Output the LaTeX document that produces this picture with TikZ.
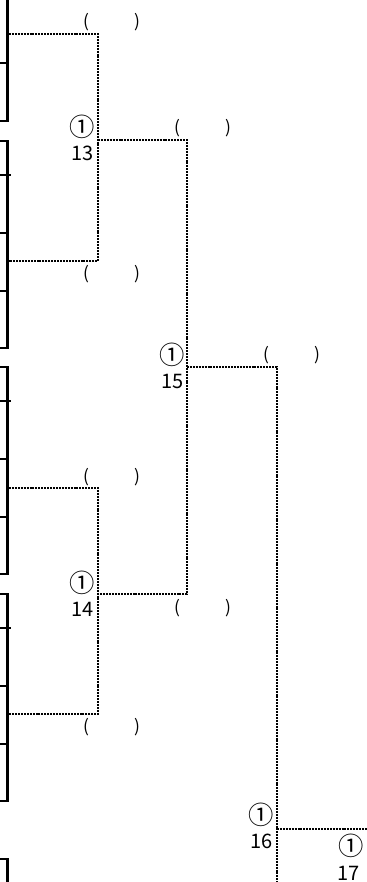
\documentclass[tikz,border=0pt]{standalone}
\usepackage{fontspec}
\newfontfamily\jpfont{Noto Sans CJK JP}
\usetikzlibrary{positioning}
\tikzset{
  frame/.style={line width=1.9pt,line cap=rect},
  rowline/.style={line width=0.8pt},
  bracket/.style={line width=1.6pt,dash pattern=on 1.5pt off 0.7pt},
  paren/.style={font=\jpfont\fontsize{13}{13}\selectfont,inner sep=0pt},
  seed/.style={font=\jpfont\fontsize{19}{19}\selectfont,inner sep=0pt,anchor=east},
  seednum/.style={font=\jpfont\fontsize{15}{15}\selectfont,inner sep=0pt,anchor=east},
}
\begin{document}
\begin{tikzpicture}[x=0.75pt,y=-0.75pt]
  \useasboundingbox (0,0) rectangle (367,882);
  % entry boxes at the left edge
  \draw[frame] (7.5,0) -- (7.5,121) -- (0,121);
  \draw[rowline] (0,63) -- (7.5,63);
  \foreach \y in {141,367,594}{
    \draw[frame] (0,\y) -- (7.5,\y) -- (7.5,\y+207) -- (0,\y+207);
    \draw[frame] (0,\y+34) -- (9.5,\y+34);
    \draw[rowline] (0,\y+92) -- (7.5,\y+92) (0,\y+150) -- (7.5,\y+150);
  }
  \draw[frame] (0,859) -- (7.5,859) -- (7.5,882);
  % bracket points
  \coordinate (t1) at (9,34);
  \coordinate (t2) at (9,261);
  \coordinate (t3) at (9,488);
  \coordinate (t4) at (9,714);
  \coordinate (w13) at (98,140);
  \coordinate (w14) at (98,594);
  \coordinate (w15) at (187,367);
  \coordinate (w16) at (277,829);
  \coordinate (down) at (277,882);
  \coordinate (final) at (367,829);
  % bracket lines
  \draw[bracket] (t1) -| (w13) |- (t2);
  \draw[bracket] (t3) -| (w14) |- (t4);
  \draw[bracket] (w13) -| (w15) |- (w14);
  \draw[bracket] (w15) -| (w16) -- (down);
  \draw[bracket] (w16) -- (final);
  % score brackets
  \node[paren] (p1) at (112,22) {(\hspace{34pt})};
  \node[paren] (p2) at (112,274) {(\hspace{34pt})};
  \node[paren] (p3) at (112,477) {(\hspace{34pt})};
  \node[paren] (p4) at (112,727) {(\hspace{34pt})};
  \node[paren] (p13) at (203,128) {(\hspace{34pt})};
  \node[paren] (p14) at (203,608) {(\hspace{34pt})};
  \node[paren] (p15) at (292,355) {(\hspace{34pt})};
  % match numbers
  \node[seed] (c13) at (95,127) {①};
  \node[seednum] (n13) at (94,153) {13};
  \node[seed] (c14) at (95,583) {①};
  \node[seednum] (n14) at (94,609) {14};
  \node[seed] (c15) at (185,355) {①};
  \node[seednum] (n15) at (184,381) {15};
  \node[seed] (c16) at (274,815) {①};
  \node[seednum] (n16) at (273,841) {16};
  \node[seed] (c17) at (364,846) {①};
  \node[seednum] (n17) at (360,873) {17};
\end{tikzpicture}
\end{document}
